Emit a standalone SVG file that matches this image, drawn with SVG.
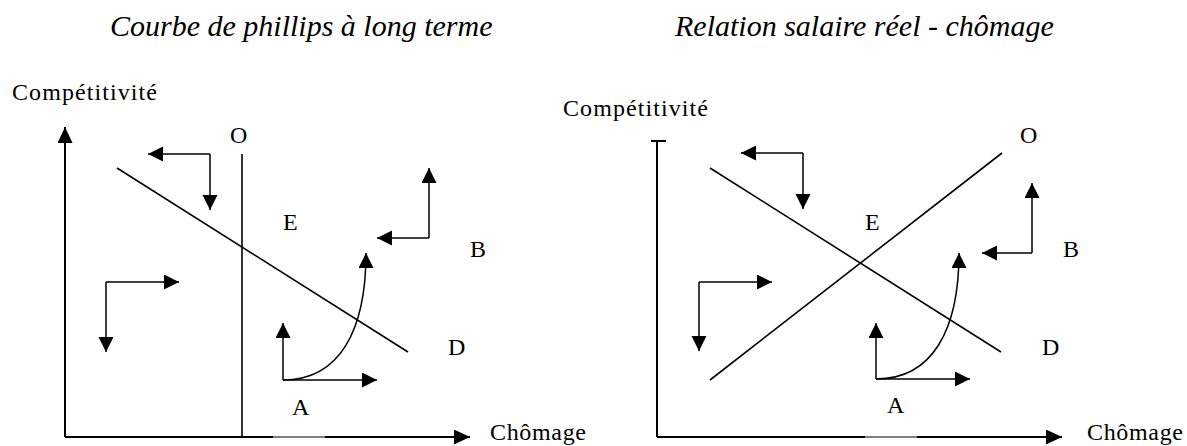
<svg xmlns="http://www.w3.org/2000/svg" width="1187" height="446" viewBox="0 0 1187 446">
<style>
.ax{stroke:#000;stroke-width:2;fill:none}
.thin{stroke:#000;stroke-width:1;fill:none}
.ln{stroke:#000;stroke-width:1.6;fill:none}
.ar{stroke:#000;stroke-width:1.5;fill:none;marker-end:url(#ah)}
.axa{stroke:#000;stroke-width:2;fill:none;marker-end:url(#ahb)}
.lbl{font-family:"Liberation Serif",serif;font-size:24px;fill:#000}
.ttl{font-family:"Liberation Serif",serif;font-size:30px;font-style:italic;fill:#000}
</style>
<defs>
<marker id="ah" markerUnits="userSpaceOnUse" markerWidth="16" markerHeight="16" refX="15" refY="7.5" orient="auto" viewBox="0 0 16 16"><path d="M0,0 L15,7.5 L0,15 z" fill="#000"/></marker>
<marker id="ahb" markerUnits="userSpaceOnUse" markerWidth="18" markerHeight="16" refX="16" refY="7.5" orient="auto" viewBox="0 0 18 16"><path d="M0,0 L16,7.5 L0,15 z" fill="#000"/></marker>
</defs>
<rect width="1187" height="446" fill="#fff"/>

<g id="title-left"><text class="ttl" x="110" y="36">Courbe de phillips à long terme</text></g>
<g id="title-right"><text class="ttl" x="675" y="36">Relation salaire réel - chômage</text></g>

<g id="panel-left">
  <g id="axes-left">
    <path class="axa" d="M65,437 L65,127"/>
    <path class="ax" d="M65,437 L273,437"/>
    <path class="thin" d="M273,437 L325,437"/>
    <path class="axa" d="M325,437 L470,437"/>
  </g>
  <g id="curve-O-left"><path class="ln" d="M242,154 L242,437"/></g>
  <g id="curve-D-left"><path class="ln" d="M117,168 L408,352"/></g>
  <g id="label-comp-left"><text class="lbl" x="12" y="100" textLength="145">Compétitivité</text></g>
  <g id="label-chom-left"><text class="lbl" x="490" y="440" textLength="96">Chômage</text></g>
  <g id="label-O-left"><text class="lbl" x="230" y="143">O</text></g>
  <g id="label-E-left"><text class="lbl" x="283" y="230">E</text></g>
  <g id="label-B-left"><text class="lbl" x="470" y="257">B</text></g>
  <g id="label-D-left"><text class="lbl" x="448" y="355">D</text></g>
  <g id="label-A-left"><text class="lbl" x="292" y="415">A</text></g>
</g>

<g id="panel-right">
  <g id="axes-right">
    <path class="ax" d="M657,437 L657,141 M651,141 L666,141"/>
    <path class="ax" d="M657,437 L865,437"/>
    <path class="thin" d="M865,437 L917,437"/>
    <path class="axa" d="M917,437 L1062,437"/>
  </g>
  <g id="curve-O-right"><path class="ln" d="M710,380 L1002,153"/></g>
  <g id="curve-D-right"><path class="ln" d="M710,168 L1001,352"/></g>
  <g id="label-comp-right"><text class="lbl" x="563" y="116" textLength="145">Compétitivité</text></g>
  <g id="label-chom-right"><text class="lbl" x="1087" y="440" textLength="96">Chômage</text></g>
  <g id="label-O-right"><text class="lbl" x="1020" y="143">O</text></g>
  <g id="label-E-right"><text class="lbl" x="865" y="230">E</text></g>
  <g id="label-B-right"><text class="lbl" x="1063" y="257">B</text></g>
  <g id="label-D-right"><text class="lbl" x="1042" y="355">D</text></g>
  <g id="label-A-right"><text class="lbl" x="887" y="413">A</text></g>
</g>

<g id="connectors">
  <path class="ar" d="M210,154 L148,154"/>
  <path class="ar" d="M210,154 L210,210"/>
  <path class="ar" d="M106,282 L179,282"/>
  <path class="ar" d="M106,282 L106,352"/>
  <path class="ar" d="M283,380 L283,323"/>
  <path class="ar" d="M283,380 L377,380"/>
  <path class="ar" d="M283,380 C340,380 366,330 366,253"/>
  <path class="ar" d="M429,238 L429,168"/>
  <path class="ar" d="M429,238 L377,238"/>
  <path class="ar" d="M803,153 L741,153"/>
  <path class="ar" d="M803,153 L803,209"/>
  <path class="ar" d="M699,282 L772,282"/>
  <path class="ar" d="M699,282 L699,351"/>
  <path class="ar" d="M876,379 L876,323"/>
  <path class="ar" d="M876,379 L970,379"/>
  <path class="ar" d="M876,379 C933,379 959,329 959,253"/>
  <path class="ar" d="M1032,253 L1032,183"/>
  <path class="ar" d="M1032,253 L982,253"/>
</g>
</svg>
